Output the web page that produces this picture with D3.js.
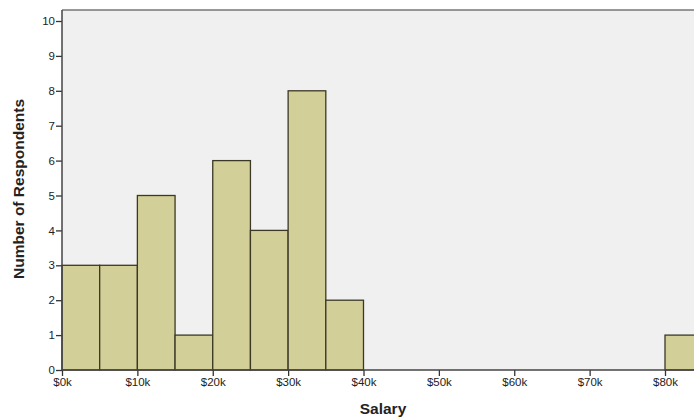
<!DOCTYPE html>
<html>
<head>
<meta charset="utf-8">
<script src="https://cdn.jsdelivr.net/npm/d3@7"></script>
<style>
  body { margin: 0; background: #fff; }
  svg { display: block; font-family: "Liberation Sans", Arial, sans-serif; }
</style>
</head>
<body>
<svg id="chart"></svg>
<script>
// data: salary bins in $k (start), count per bin
const binStarts = [0, 5, 10, 15, 20, 25, 30, 35, 80];
const counts = [3, 3, 5, 1, 6, 4, 8, 2, 1];
const binWidth = 5;
const xTicks = [0, 10, 20, 30, 40, 50, 60, 70, 80];
const yTicks = [0, 1, 2, 3, 4, 5, 6, 7, 8, 9, 10];

const width = 694;
const height = 419;
const plotLeft = 62, plotTop = 10, plotBottom = 370;

const svg = d3.select("#chart")
    .attr("width", width)
    .attr("height", height);

const x = d3.scaleLinear().domain([0, 80]).range([plotLeft, 665]);
const y = d3.scaleLinear().domain([0, 10]).range([plotBottom, 21]);

// plot background
svg.append("rect")
    .attr("x", plotLeft).attr("y", plotTop)
    .attr("width", width - plotLeft).attr("height", plotBottom - plotTop)
    .attr("fill", "#f0f0f0");

svg.append("line")
    .attr("x1", plotLeft).attr("x2", width)
    .attr("y1", plotTop).attr("y2", plotTop)
    .attr("stroke", "#777").attr("stroke-width", 1.5);

// bars
svg.selectAll(".bar")
    .data(binStarts)
    .enter()
    .append("rect")
    .attr("class", "bar")
    .attr("x", d => x(d))
    .attr("y", (d, i) => y(counts[i]))
    .attr("width", d => x(d + binWidth) - x(d))
    .attr("height", (d, i) => plotBottom - y(counts[i]))
    .attr("fill", "#d3cf98")
    .attr("stroke", "#3b3826")
    .attr("stroke-width", 1.3);

// axes
const xAxis = d3.axisBottom(x)
    .tickValues(xTicks)
    .tickSize(6)
    .tickFormat(d => "$" + d + "k");
const yAxis = d3.axisLeft(y)
    .tickValues(yTicks)
    .tickSize(6)
    .tickFormat(d3.format("d"));

const gx = svg.append("g")
    .attr("transform", `translate(0, ${plotBottom})`)
    .call(xAxis);
gx.select(".domain").remove();
svg.append("line")
    .attr("x1", plotLeft).attr("x2", width)
    .attr("y1", plotBottom).attr("y2", plotBottom)
    .attr("stroke", "#444").attr("stroke-width", 1.5);

const gy = svg.append("g")
    .attr("transform", `translate(${plotLeft}, 0)`)
    .call(yAxis);
gy.select(".domain").remove();
svg.append("line")
    .attr("x1", plotLeft).attr("x2", plotLeft)
    .attr("y1", plotTop).attr("y2", plotBottom)
    .attr("stroke", "#444").attr("stroke-width", 1.5);

svg.selectAll(".tick line").attr("stroke", "#333").attr("stroke-width", 1.3);
svg.selectAll(".tick text")
    .attr("fill", "#222")
    .style("font-size", "11.5px")
    .style("font-family", "Liberation Sans, Arial, sans-serif");
gy.selectAll(".tick text").attr("x", -7);
gx.selectAll(".tick text").attr("y", 8);

// titles
svg.append("text")
    .attr("x", 383).attr("y", 414)
    .attr("text-anchor", "middle")
    .style("font-size", "15.5px")
    .style("font-weight", "bold")
    .attr("fill", "#222")
    .text("Salary");

svg.append("text")
    .attr("transform", "translate(24, 189) rotate(-90)")
    .attr("text-anchor", "middle")
    .style("font-size", "15.5px")
    .style("font-weight", "bold")
    .attr("fill", "#222")
    .text("Number of Respondents");
</script>
</body>
</html>
